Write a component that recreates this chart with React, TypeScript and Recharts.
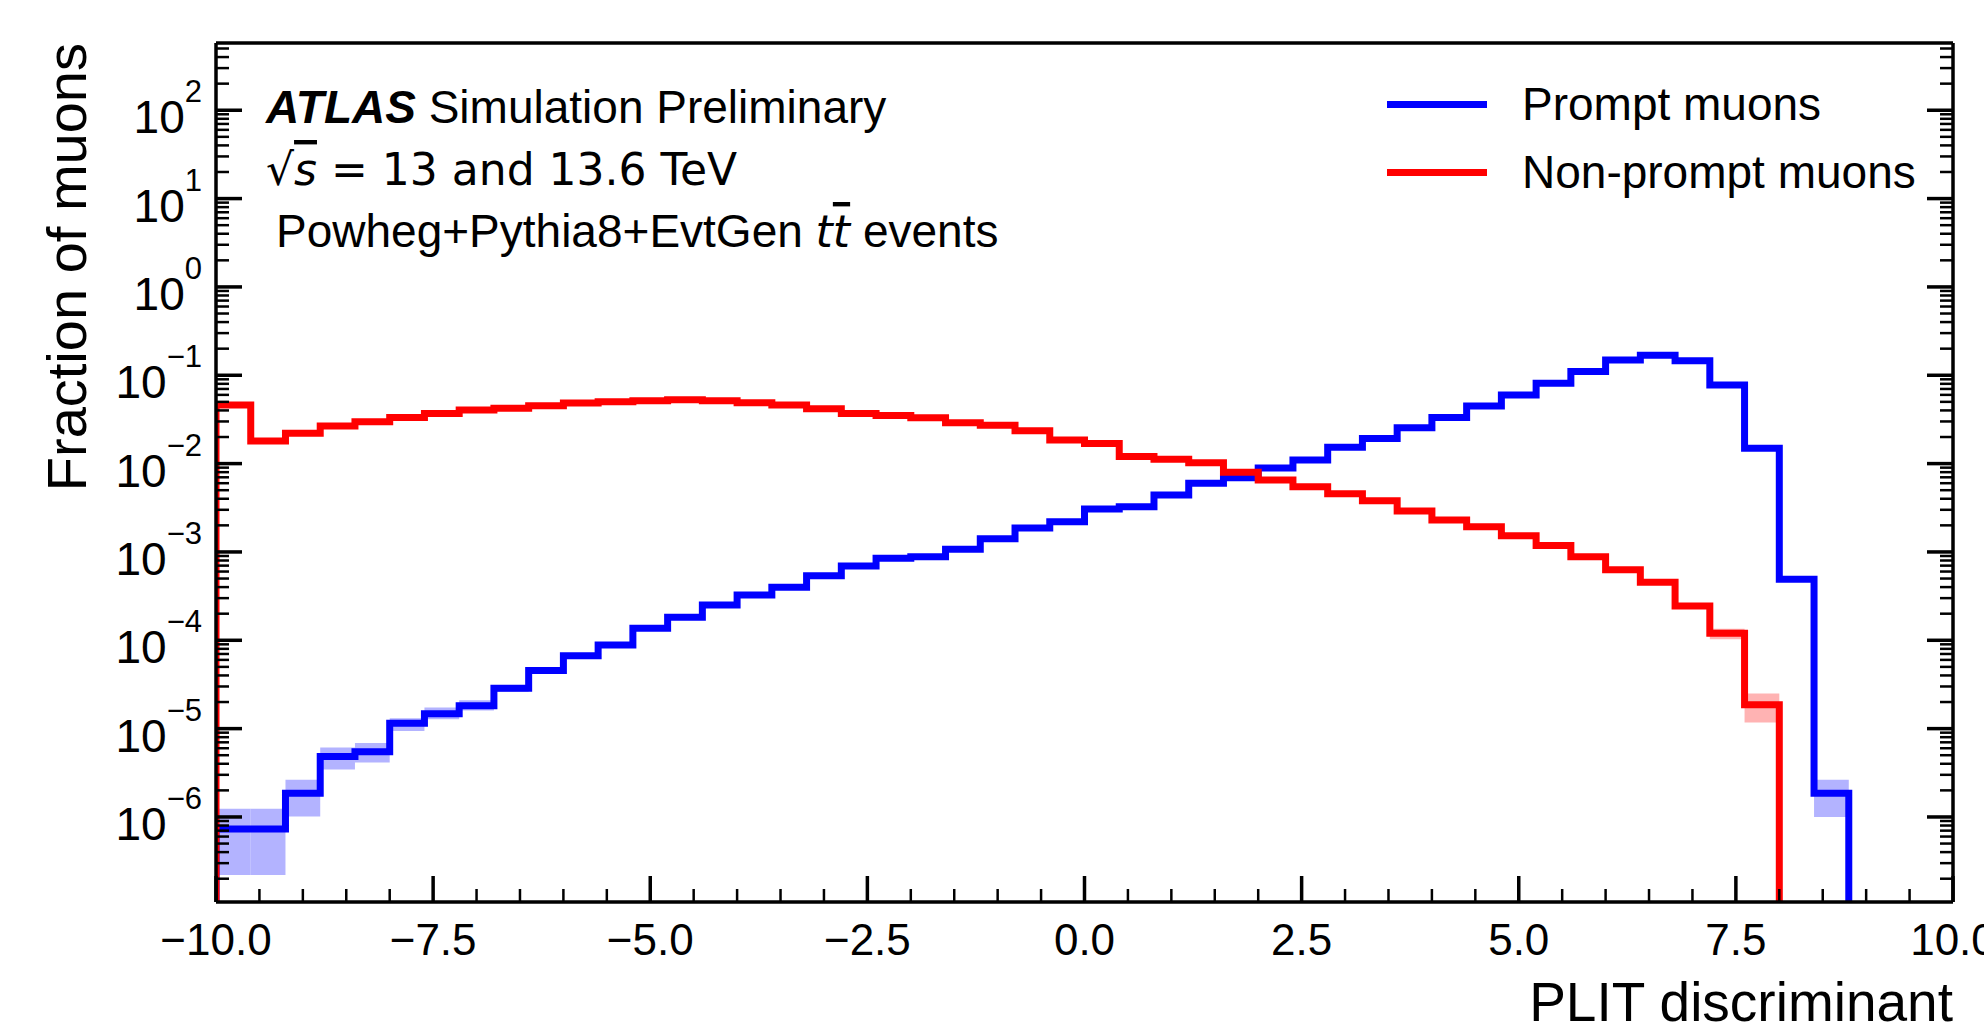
import React from 'react';
import { LineChart, Line, XAxis, YAxis, ReferenceArea, Legend } from 'recharts';

// PLIT discriminant bins (width 0.4)
const binEdges = [
  -10, -9.6, -9.2, -8.8, -8.4, -8, -7.6, -7.2, -6.8, -6.4, -6, -5.6, -5.2, -4.8, -4.4, -4, -3.6,
  -3.2, -2.8, -2.4, -2, -1.6, -1.2, -0.8, -0.4, 0, 0.4, 0.8, 1.2, 1.6, 2, 2.4, 2.8, 3.2, 3.6, 4,
  4.4, 4.8, 5.2, 5.6, 6, 6.4, 6.8, 7.2, 7.6, 8, 8.4, 8.8, 9.2, 9.6, 10,
];

// fraction of prompt muons per bin
const promptFraction = [
  7.3e-7, 7.3e-7, 1.85e-6, 4.84e-6, 5.47e-6, 1.15e-5, 1.47e-5, 1.82e-5, 2.87e-5, 4.54e-5,
  6.67e-5, 8.87e-5, 1.37e-4, 1.82e-4, 2.51e-4, 3.26e-4, 3.98e-4, 5.39e-4, 6.95e-4, 8.49e-4,
  8.85e-4, 1.07e-3, 1.41e-3, 1.87e-3, 2.2e-3, 3.06e-3, 3.25e-3, 4.41e-3, 5.98e-3, 6.92e-3,
  8.9e-3, 0.011, 0.0153, 0.0193, 0.0255, 0.0333, 0.0449, 0.0597, 0.081, 0.11,
  0.149, 0.169, 0.146, 0.0774, 0.0149, 4.9e-4, 1.86e-6, 0, 0, 0,
];

// fraction of non-prompt muons per bin
const nonPromptFraction = [
  0.046, 0.018, 0.022, 0.0266, 0.0298, 0.0333, 0.037, 0.0404, 0.0422, 0.0452,
  0.0485, 0.05, 0.0515, 0.0529, 0.0515, 0.049, 0.046, 0.0418, 0.037, 0.035,
  0.0331, 0.029, 0.0271, 0.0236, 0.0185, 0.0169, 0.012, 0.0112, 0.0102, 0.00796,
  0.00652, 0.00547, 0.00457, 0.0038, 0.0029, 0.0023, 0.00193, 0.00153, 0.00118, 8.85e-4,
  6.3e-4, 4.54e-4, 2.45e-4, 1.2e-4, 1.86e-5, 0, 0, 0, 0, 0,
];

// statistical uncertainty bands (only where visible)
const promptBandLow: (number | null)[] = [
  2.2e-7, 2.2e-7, 1.01e-6, 3.45e-6, 4.14e-6, 9.4e-6, 1.28e-5, 1.6e-5, 2.6e-5, null,
  null, null, null, null, null, null, null, null, null, null,
  null, null, null, null, null, null, null, null, null, null,
  null, null, null, null, null, null, null, null, null, null,
  null, null, null, null, null, null, 1.0e-6, null, null, null,
];
const promptBandHigh: (number | null)[] = [
  1.24e-6, 1.24e-6, 2.64e-6, 6.1e-6, 6.86e-6, 1.31e-5, 1.73e-5, 2.1e-5, 3.1e-5, null,
  null, null, null, null, null, null, null, null, null, null,
  null, null, null, null, null, null, null, null, null, null,
  null, null, null, null, null, null, null, null, null, null,
  null, null, null, null, null, null, 2.64e-6, null, null, null,
];
const nonPromptBandLow: (number | null)[] = [
  null, null, null, null, null, null, null, null, null, null,
  null, null, null, null, null, null, null, null, null, null,
  null, null, null, null, null, null, null, null, null, null,
  null, null, null, null, null, null, null, null, null, null,
  null, null, null, 1.03e-4, 1.17e-5, null, null, null, null, null,
];
const nonPromptBandHigh: (number | null)[] = [
  null, null, null, null, null, null, null, null, null, null,
  null, null, null, null, null, null, null, null, null, null,
  null, null, null, null, null, null, null, null, null, null,
  null, null, null, null, null, null, null, null, null, null,
  null, null, null, 1.35e-4, 2.5e-5, null, null, null, null, null,
];

const seriesNames = ['Prompt muons', 'Non-prompt muons'];

const xMajorTicks = [-10, -7.5, -5, -2.5, 0, 2.5, 5, 7.5, 10];
const xMinorTicks = [
  -9.5, -9, -8.5, -8, -7, -6.5, -6, -5.5, -4.5, -4, -3.5, -3, -2, -1.5, -1, -0.5,
  0.5, 1, 1.5, 2, 3, 3.5, 4, 4.5, 5.5, 6, 6.5, 7, 8, 8.5, 9, 9.5,
];
const yDecades = [-7, -6, -5, -4, -3, -2, -1, 0, 1, 2];

const Y_MIN = 1.09e-7;
const Y_MAX = 577;
const FLOOR = 1e-9; // empty bins, drawn below the frame

const FONT = '"Liberation Sans", Arial, Helvetica, sans-serif';
const MATH_FONT = '"DejaVu Sans", sans-serif';
const BLUE = '#0000ff';
const RED = '#ff0000';

const yTicks: number[] = [];
yDecades.forEach((d) => {
  for (let m = 1; m <= 9; m++) {
    const v = m * Math.pow(10, d);
    if (v >= Y_MIN && v <= Y_MAX) yTicks.push(v);
  }
});
const xTicks = [...xMajorTicks, ...xMinorTicks].sort((a, b) => a - b);

const isDecade = (v: number) => {
  const l = Math.log10(v);
  return Math.abs(l - Math.round(l)) < 1e-6;
};
const isXMajor = (v: number) => xMajorTicks.some((t) => Math.abs(t - v) < 1e-9);

const toSteps = (vals: number[]) => [
  { x: binEdges[0], y: FLOOR },
  ...vals.map((v, i) => ({ x: binEdges[i], y: v > 0 ? v : FLOOR })),
  { x: binEdges[binEdges.length - 1], y: FLOOR },
];

const promptData = toSteps(promptFraction);
const nonPromptData = toSteps(nonPromptFraction);

const fmtX = (v: number) => (v < 0 ? '\u2212' + Math.abs(v).toFixed(1) : v.toFixed(1));

const LeftTick = (props: any) => {
  const { x, y, payload } = props;
  const major = isDecade(payload.value);
  const exp = Math.round(Math.log10(payload.value));
  return (
    <g>
      <line x1={x} x2={x + (major ? 26 : 13)} y1={y} y2={y} stroke="#000" strokeWidth={major ? 3.5 : 2.5} />
      {major && (
        <text x={x - 14} y={y + 23} textAnchor="end" fontFamily={FONT} fontSize={46} fill="#000">
          10
          <tspan fontSize={31} dy={-31}>
            {exp < 0 ? '\u2212' + Math.abs(exp) : String(exp)}
          </tspan>
        </text>
      )}
    </g>
  );
};

const RightTick = (props: any) => {
  const { x, y, payload } = props;
  const major = isDecade(payload.value);
  return <line x1={x} x2={x - (major ? 26 : 13)} y1={y} y2={y} stroke="#000" strokeWidth={major ? 3.5 : 2.5} />;
};

const BottomTick = (props: any) => {
  const { x, y, payload } = props;
  const major = isXMajor(payload.value);
  return (
    <g>
      <line x1={x} x2={x} y1={y} y2={y - (major ? 26 : 13)} stroke="#000" strokeWidth={major ? 3.5 : 2.5} />
      {major && (
        <text x={x} y={y + 53} textAnchor="middle" fontFamily={FONT} fontSize={44} fill="#000">
          {fmtX(payload.value)}
        </text>
      )}
    </g>
  );
};

const TopTick = (props: any) => {
  const { x, y, payload } = props;
  const major = isXMajor(payload.value);
  return <line x1={x} x2={x} y1={y} y2={y + (major ? 26 : 13)} stroke="#000" strokeWidth={major ? 3.5 : 2.5} />;
};

const LegendBox = ({ payload }: any) => {
  const items = [...(payload || [])].sort(
    (a: any, b: any) => seriesNames.indexOf(a.value) - seriesNames.indexOf(b.value)
  );
  return (
    <div style={{ fontFamily: FONT, fontSize: 46, lineHeight: 1, color: '#000' }}>
      {items.map((p: any) => (
        <div key={p.value} style={{ display: 'flex', alignItems: 'center', height: 68 }}>
          <div style={{ width: 100, height: 7, background: p.color }} />
          <span style={{ marginLeft: 35, whiteSpace: 'nowrap' }}>{p.value}</span>
        </div>
      ))}
    </div>
  );
};

const frame = { stroke: '#000', strokeWidth: 3.5 };

export default function App() {
  const bands = (lo: (number | null)[], hi: (number | null)[], color: string, tag: string) =>
    lo.map((l, i) =>
      l != null && hi[i] != null ? (
        <ReferenceArea
          key={tag + i}
          xAxisId="b"
          yAxisId="l"
          x1={binEdges[i]}
          x2={binEdges[i + 1]}
          y1={l}
          y2={hi[i] as number}
          fill={color}
          fillOpacity={1}
          stroke="none"
          ifOverflow="hidden"
        />
      ) : null
    );

  return (
    <div style={{ position: 'absolute', left: 0, top: 0, width: 1984, height: 1033, background: '#fff' }}>
      <LineChart width={1984} height={1033} margin={{ top: 0, right: 0, bottom: 0, left: 0 }}>
        <XAxis
          xAxisId="b"
          dataKey="x"
          type="number"
          domain={[-10, 10]}
          allowDataOverflow
          ticks={xTicks}
          interval={0}
          tickSize={0}
          tickMargin={0}
          tickLine={false}
          tick={BottomTick}
          axisLine={frame}
          height={131}
        />
        <XAxis
          xAxisId="t"
          orientation="top"
          type="number"
          domain={[-10, 10]}
          allowDataOverflow
          ticks={xTicks}
          interval={0}
          tickSize={0}
          tickMargin={0}
          tickLine={false}
          tick={TopTick}
          axisLine={frame}
          height={43}
        />
        <YAxis
          yAxisId="l"
          type="number"
          scale="log"
          domain={[Y_MIN, Y_MAX]}
          allowDataOverflow
          ticks={yTicks}
          interval={0}
          tickSize={0}
          tickMargin={0}
          tickLine={false}
          tick={LeftTick}
          axisLine={frame}
          width={216}
        />
        <YAxis
          yAxisId="r"
          orientation="right"
          type="number"
          scale="log"
          domain={[Y_MIN, Y_MAX]}
          allowDataOverflow
          ticks={yTicks}
          interval={0}
          tickSize={0}
          tickMargin={0}
          tickLine={false}
          tick={RightTick}
          axisLine={frame}
          width={31}
        />
        {bands(promptBandLow, promptBandHigh, '#b3b3ff', 'pb')}
        {bands(nonPromptBandLow, nonPromptBandHigh, '#ffb3b3', 'nb')}
        <Line
          data={promptData}
          xAxisId="b"
          yAxisId="l"
          dataKey="y"
          name={seriesNames[0]}
          type="stepAfter"
          stroke={BLUE}
          strokeWidth={7}
          dot={false}
          activeDot={false}
          isAnimationActive={false}
        />
        <Line
          data={nonPromptData}
          xAxisId="b"
          yAxisId="l"
          dataKey="y"
          name={seriesNames[1]}
          type="stepAfter"
          stroke={RED}
          strokeWidth={7}
          dot={false}
          activeDot={false}
          isAnimationActive={false}
        />
        <Legend
          layout="vertical"
          align="center"
          verticalAlign="middle"
          content={LegendBox}
          wrapperStyle={{ left: 1387, top: 70, width: 'auto', height: 'auto' }}
        />
      </LineChart>
      <svg
        width={1984}
        height={1033}
        style={{ position: 'absolute', left: 0, top: 0, pointerEvents: 'none' }}
        fontFamily={FONT}
        fill="#000"
      >
        <text x={266} y={123} fontSize={46}>
          <tspan fontWeight="bold" fontStyle="italic">ATLAS</tspan>
          <tspan> Simulation Preliminary</tspan>
        </text>
        <text x={266} y={185} fontSize={44} fontFamily={MATH_FONT}>
          {'\u221A'}
          <tspan fontStyle="italic" style={{ textDecoration: 'overline' }}>s</tspan>
          <tspan> = 13 and 13.6 TeV</tspan>
        </text>
        <text x={276} y={247} fontSize={46}>
          Powheg+Pythia8+EvtGen{' '}
          <tspan fontStyle="italic" fontFamily={MATH_FONT} fontSize={44}>t</tspan>
          <tspan fontStyle="italic" fontFamily={MATH_FONT} fontSize={44} style={{ textDecoration: 'overline' }}>t</tspan>
          <tspan> events</tspan>
        </text>
        <text x={1953} y={1021} fontSize={55} textAnchor="end">
          PLIT discriminant
        </text>
        <text transform="translate(86, 43) rotate(-90)" fontSize={56} textAnchor="end">
          Fraction of muons
        </text>
      </svg>
    </div>
  );
}
